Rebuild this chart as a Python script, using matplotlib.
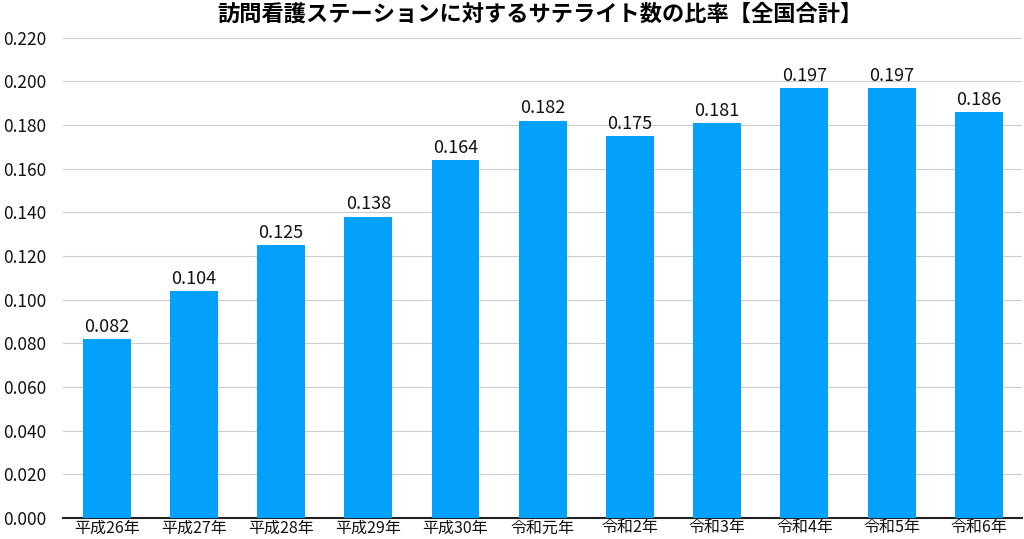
import matplotlib
matplotlib.use("Agg")
import matplotlib.pyplot as plt
from matplotlib.ticker import MultipleLocator, FormatStrFormatter

plt.rcParams['font.family'] = ['Noto Sans CJK JP', 'DejaVu Sans']

years = ["平成26年", "平成27年", "平成28年", "平成29年", "平成30年", "令和元年",
         "令和2年", "令和3年", "令和4年", "令和5年", "令和6年"]
ratios = [0.082, 0.104, 0.125, 0.138, 0.164, 0.182, 0.175, 0.181, 0.197, 0.197, 0.186]
title = "訪問看護ステーションに対するサテライト数の比率【全国合計】"

fig = plt.figure(figsize=(10.24, 5.39), dpi=100)
ax = fig.add_axes([0.0615, 0.039, 0.937, 0.891])

x = range(len(years))
bars = ax.bar(x, ratios, width=0.55, color="#03A1FB", zorder=3)
for b, v in zip(bars, ratios):
    ax.text(b.get_x() + b.get_width() / 2, v + 0.0015, "%.3f" % v,
            ha="center", va="bottom", fontsize=13, color="#111111")

ax.set_xlim(-0.5, len(years) - 0.5)
ax.set_ylim(0, 0.22)
ax.yaxis.set_major_locator(MultipleLocator(0.02))
ax.yaxis.set_major_formatter(FormatStrFormatter("%.3f"))
ax.set_xticks(list(x))
ax.set_xticklabels(years)
ax.grid(axis="y", color="#cccccc", linewidth=0.8, zorder=0)
for s in ["top", "right", "left"]:
    ax.spines[s].set_visible(False)
ax.spines["bottom"].set_color("#222222")
ax.spines["bottom"].set_linewidth(1.5)
ax.tick_params(axis="y", length=0, labelsize=12.5, pad=12, labelcolor="#111111")
ax.tick_params(axis="x", length=0, labelsize=11.5, pad=1, labelcolor="#111111")

fig.text(0.527, 0.974, title, ha="center", va="center", fontsize=16, fontweight="bold")

fig.savefig("out.png", dpi=100)
